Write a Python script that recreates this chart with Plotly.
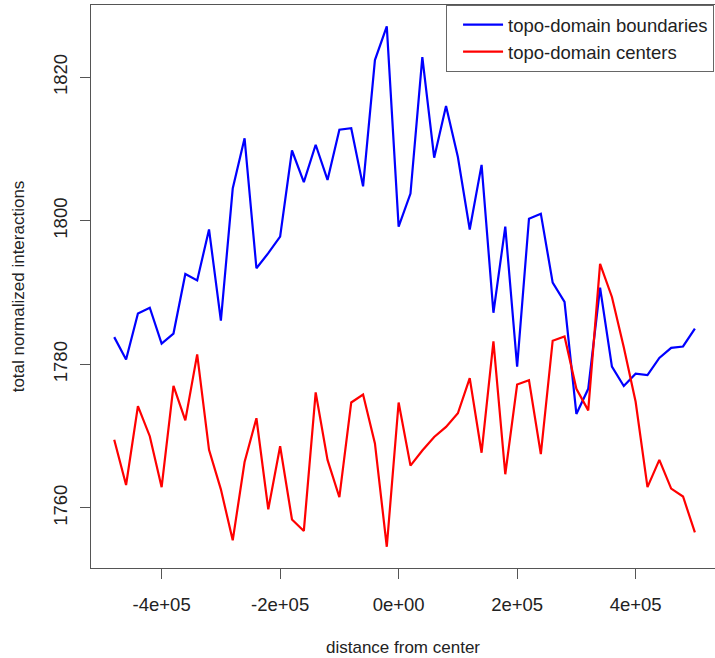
import plotly.graph_objects as go

# distance from center (bp)
distance = list(range(-480000, 500001, 20000))

boundaries = [1783.8, 1780.7, 1787.1, 1787.9, 1782.9, 1784.3, 1792.6, 1791.7, 1798.8, 1786.1,
              1804.5, 1811.5, 1793.4, 1795.5, 1797.8, 1809.8, 1805.4, 1810.6, 1805.7, 1812.7,
              1812.9, 1804.8, 1822.4, 1827.1, 1799.2, 1803.8, 1822.8, 1808.8, 1816.0, 1808.9,
              1798.8, 1807.8, 1787.2, 1799.2, 1779.7, 1800.3, 1801.0, 1791.4, 1788.7, 1773.1,
              1776.6, 1790.7, 1779.7, 1777.0, 1778.7, 1778.5, 1780.9, 1782.3, 1782.5, 1785.0]

centers = [1769.5, 1763.2, 1774.2, 1770.0, 1762.9, 1777.0, 1772.2, 1781.4, 1768.1, 1762.6,
           1755.5, 1766.4, 1772.5, 1759.8, 1768.6, 1758.4, 1756.8, 1776.1, 1766.7, 1761.5,
           1774.7, 1775.8, 1769.0, 1754.6, 1774.7, 1765.9, 1768.0, 1769.9, 1771.3, 1773.2,
           1778.1, 1767.7, 1783.2, 1764.7, 1777.2, 1777.8, 1767.5, 1783.3, 1783.9, 1776.6,
           1773.6, 1794.0, 1789.4, 1782.4, 1774.8, 1762.9, 1766.7, 1762.7, 1761.6, 1756.6]

x_tickvals = [-400000, -200000, 0, 200000, 400000]
x_ticktext = ["-4e+05", "-2e+05", "0e+00", "2e+05", "4e+05"]
y_tickvals = [1760, 1780, 1800, 1820]

FONT = "Liberation Sans, Arial, Helvetica, sans-serif"
TXT = "#222222"
AX = "#555555"

fig = go.Figure()
fig.add_trace(go.Scatter(x=distance, y=boundaries, mode="lines",
                         name="topo-domain boundaries",
                         line=dict(color="#0000ff", width=2.2)))
fig.add_trace(go.Scatter(x=distance, y=centers, mode="lines",
                         name="topo-domain centers",
                         line=dict(color="#ff0000", width=2.2)))

fig.update_layout(
    width=715, height=658,
    margin=dict(l=91, r=0, t=5, b=90, autoexpand=False),
    paper_bgcolor="white", plot_bgcolor="white",
    font=dict(family=FONT, size=18, color=TXT),
    showlegend=True,
    legend=dict(x=0.569, y=1, xanchor="left", yanchor="top",
                bordercolor="#666666", borderwidth=1, bgcolor="white",
                font=dict(family=FONT, size=18.5, color=TXT),
                indentation=11, itemwidth=40, tracegroupgap=0),
    xaxis=dict(range=[-519200, 533965], tickvals=x_tickvals, ticktext=x_ticktext,
               ticks="outside", ticklen=10, tickcolor=AX, tickwidth=1,
               showline=True, linecolor=AX, linewidth=1.3, mirror=True,
               showgrid=False, zeroline=False, ticklabelstandoff=10, automargin=False,
               tickfont=dict(size=18.5),
               title=dict(text="distance from center", standoff=26, font=dict(size=17))),
    yaxis=dict(range=[1751.64, 1830.07], tickvals=y_tickvals,
               ticks="outside", ticklen=10, tickcolor=AX, tickwidth=1,
               showline=True, linecolor=AX, linewidth=1.3, mirror=False,
               showgrid=False, zeroline=False, tickangle=-90, ticklabelstandoff=5,
               automargin=False, tickfont=dict(size=18.5),
               title=dict(text="total normalized interactions", standoff=21, font=dict(size=17))),
)

fig.write_html("out.html", config={"displayModeBar": False},
               post_script="document.body.style.margin='0px';")
